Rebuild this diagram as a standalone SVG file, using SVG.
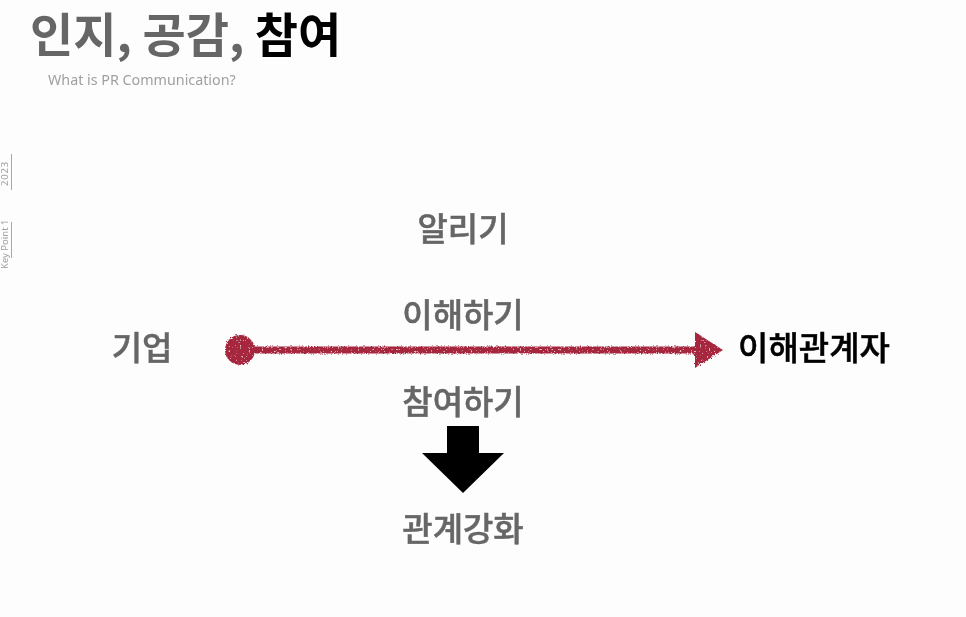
<svg xmlns="http://www.w3.org/2000/svg" width="966" height="617" viewBox="0 0 966 617">
<style>
text{font-family:"Noto Sans CJK KR","Noto Sans",sans-serif}
.k{font-size:33px;font-weight:500;fill:#666;stroke:#666;stroke-width:.5px;text-anchor:middle}
.l{font-family:"Noto Sans",sans-serif}
.v{fill:#a0a0a0;font-size:9.5px}
.t{stroke:#a8a8a8;stroke-width:1}
</style>
<defs>
<filter id="rough" x="-5%" y="-60%" width="110%" height="220%">
<feTurbulence type="fractalNoise" baseFrequency="0.7" numOctaves="2" seed="4" result="n"/>
<feDisplacementMap in="SourceGraphic" in2="n" scale="3.500" result="d"/>
<feGaussianBlur in="d" stdDeviation="0.5" result="b"/>
<feTurbulence type="fractalNoise" baseFrequency="0.55" numOctaves="1" seed="9"/>
<feColorMatrix type="matrix" values="0 0 0 0 0.85  0 0 0 0 0.55  0 0 0 0 0.6  0 0 0 9 -5.800"/>
<feGaussianBlur stdDeviation="0.4"/>
<feComposite in2="b" operator="in" result="s"/>
<feMerge><feMergeNode in="b"/><feMergeNode in="s"/></feMerge>
</filter>
<filter id="soft"><feGaussianBlur stdDeviation="0.4"/></filter>
</defs>
<rect width="966" height="617" fill="#fdfdfd"/>
<g id="title" filter="url(#soft)">
<text x="30" y="52" font-size="47" font-weight="700" fill="#666">인지, 공감, <tspan fill="#000">참여</tspan></text>
<text class="l" x="48" y="85" font-size="14.300" fill="#a0a0a0">What is PR Communication?</text>
</g>
<g id="side" filter="url(#soft)">
<line class="t" x1="11.500" y1="154" x2="11.500" y2="190"/>
<line class="t" x1="11.500" y1="222" x2="11.500" y2="258"/>
<text class="v l" transform="translate(8,186) rotate(-90)" letter-spacing="0.800">2023</text>
<text class="v l" transform="translate(8,269) rotate(-90)">Key Point 1</text>
</g>
<g id="connectors">
<g id="red-arrow" filter="url(#rough)" fill="#a5263c">
<circle cx="240" cy="350" r="15"/>
<rect x="250" y="346.500" width="452" height="7"/>
<polygon points="695,332 723,350 695,368"/>
</g>
<polygon id="down-arrow" points="447,426 479,426 479,453 504,453 463,493 422,453 447,453" fill="#000"/>
</g>
<g id="node-notify" filter="url(#soft)"><text class="k" x="463" y="241">알리기</text></g>
<g id="node-understand" filter="url(#soft)"><text class="k" x="463" y="327">이해하기</text></g>
<g id="node-participate" filter="url(#soft)"><text class="k" x="463" y="414">참여하기</text></g>
<g id="node-strengthen" filter="url(#soft)"><text class="k" x="463" y="541">관계강화</text></g>
<g id="node-company" filter="url(#soft)"><text class="k" x="142" y="360">기업</text></g>
<g id="node-stakeholder" filter="url(#soft)"><text class="k" x="814" y="360" style="fill:#000;stroke:#000">이해관계자</text></g>
</svg>
